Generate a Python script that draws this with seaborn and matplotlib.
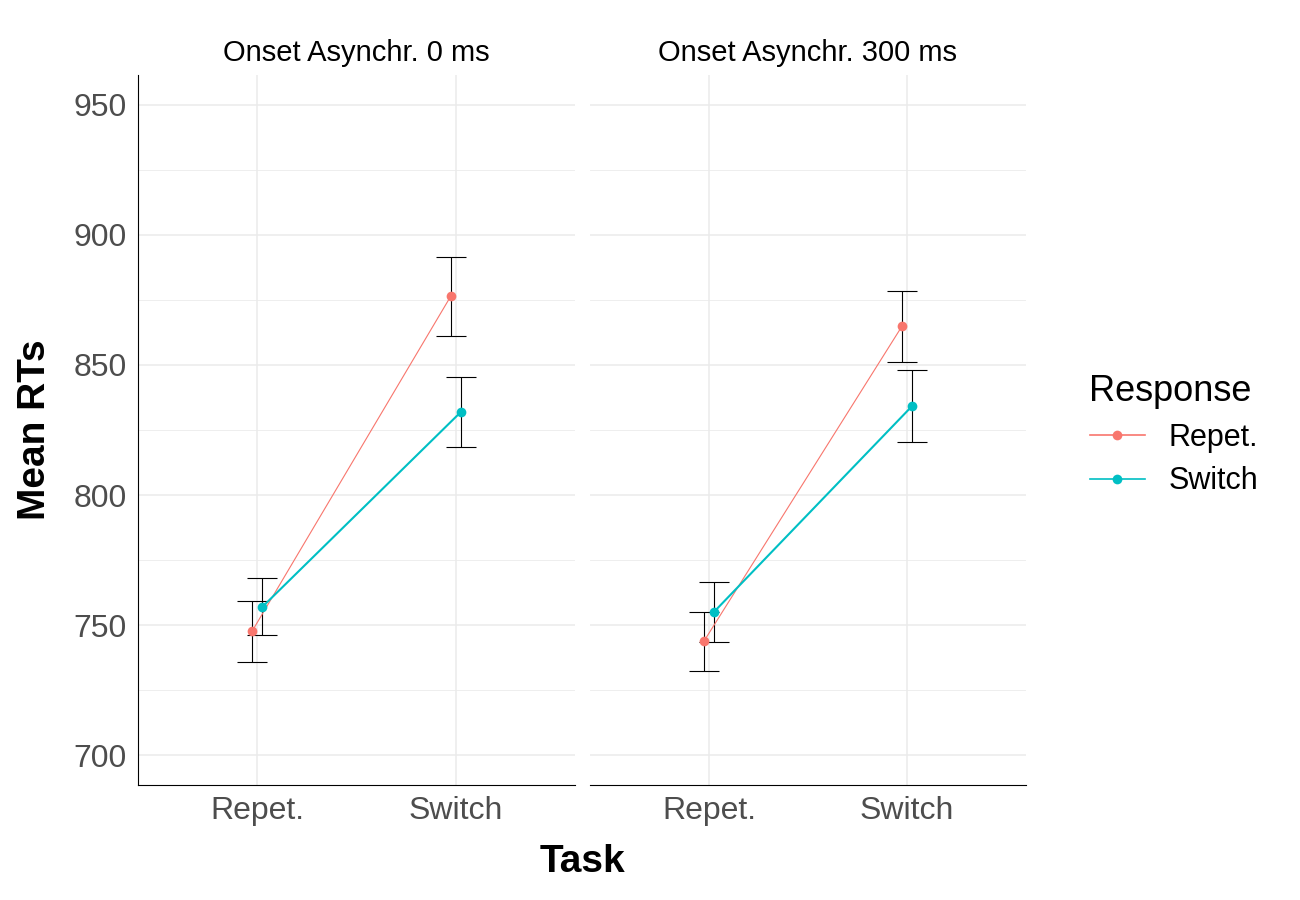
import matplotlib
matplotlib.use("Agg")
import matplotlib.pyplot as plt
import seaborn as sns
import pandas as pd
import numpy as np
from matplotlib.lines import Line2D

panels = ["Onset Asynchr. 0 ms", "Onset Asynchr. 300 ms"]
tasks = ["Repet.", "Switch"]
responses = ["Repet.", "Switch"]
mean_p0_repet = [747.7, 876.5]
mean_p0_switch = [756.9, 831.9]
mean_p1_repet = [743.8, 865.0]
mean_p1_switch = [755.0, 834.2]
lo_p0_repet = [735.8, 861.2]; hi_p0_repet = [759.2, 891.5]
lo_p0_switch = [746.2, 818.5]; hi_p0_switch = [768.1, 845.4]
lo_p1_repet = [732.3, 851.2]; hi_p1_repet = [755.0, 878.5]
lo_p1_switch = [743.5, 820.4]; hi_p1_switch = [766.5, 848.1]

data = {
    (0, "Repet."): (mean_p0_repet, lo_p0_repet, hi_p0_repet),
    (0, "Switch"): (mean_p0_switch, lo_p0_switch, hi_p0_switch),
    (1, "Repet."): (mean_p1_repet, lo_p1_repet, hi_p1_repet),
    (1, "Switch"): (mean_p1_switch, lo_p1_switch, hi_p1_switch),
}
colors = {"Repet.": "#F8766D", "Switch": "#00BFC4"}
lws = {"Repet.": 0.8, "Switch": 1.5}
dodge = {"Repet.": -0.025, "Switch": 0.025}

plt.rcParams['font.family'] = ['Liberation Sans', 'DejaVu Sans']
fig = plt.figure(figsize=(13, 9), dpi=100)
W, H = 1300, 900
axes = [fig.add_axes([138/W, 1-785/H, 437/W, 710/H]),
        fig.add_axes([590/W, 1-785/H, 436/W, 710/H])]

for i, ax in enumerate(axes):
    for r in responses:
        m, lo, hi = data[(i, r)]
        xs = np.arange(1, 3) + dodge[r]
        df = pd.DataFrame({"x": xs, "y": m})
        sns.lineplot(data=df, x="x", y="y", ax=ax, color=colors[r], lw=lws[r],
                     marker="o", markersize=7, markeredgewidth=0,
                     legend=False, zorder=3)
        ax.errorbar(xs, m, yerr=[np.array(m)-np.array(lo), np.array(hi)-np.array(m)],
                    fmt="none", ecolor="black", elinewidth=0.8, capsize=11, capthick=0.8, zorder=2)
    ax.set_xlim(0.4, 2.6)
    ax.set_ylim(688.5, 961.5)
    ax.set_xticks([1, 2]); ax.set_xticklabels(tasks)
    ax.set_yticks([700, 750, 800, 850, 900, 950])
    ax.set_yticks([725, 775, 825, 875, 925], minor=True)
    ax.grid(True, which="major", color="#EBEBEB", lw=1.1, zorder=0)
    ax.grid(True, which="minor", axis="y", color="#EBEBEB", lw=0.6, zorder=0)
    ax.set_axisbelow(True)
    for s in ["top", "right"]:
        ax.spines[s].set_visible(False)
    ax.spines["bottom"].set_color("black")
    ax.tick_params(axis="both", which="both", length=0, labelsize=23, labelcolor="#4D4D4D", pad=8)
    ax.set_xlabel(""); ax.set_ylabel("")
    ax.set_title(panels[i], fontsize=21, pad=10)
    if i == 1:
        ax.spines["left"].set_visible(False)
        ax.tick_params(axis="y", labelleft=False)
    else:
        ax.spines["left"].set_color("black")

fig.text(582/W, 1-862/H, "Task", fontsize=28, fontweight="bold", ha="center", va="center")
fig.text(35/W, 1-430/H, "Mean RTs", fontsize=28, fontweight="bold", ha="center", va="center", rotation=90)
h = [Line2D([], [], color=colors[r], lw=1.2, marker="o", markersize=7, markeredgewidth=0) for r in responses]
fig.legend(h, responses, title="Response", loc="center left", bbox_to_anchor=(1062/W, 1-435/H),
           frameon=False, fontsize=22, title_fontsize=26, handlelength=1.8, labelspacing=0.45,
           alignment="left")
fig.savefig("out.png", dpi=100)
